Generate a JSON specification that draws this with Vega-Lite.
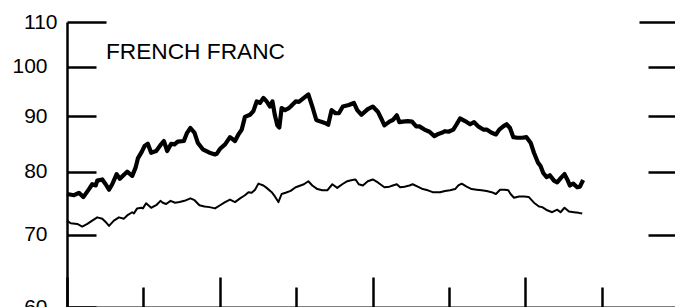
{
  "$schema": "https://vega.github.io/schema/vega-lite/v6.json",
  "width": 611,
  "height": 285,
  "autosize": {"type": "none"},
  "padding": {"left": 67, "top": 22, "right": 0, "bottom": 0},
  "background": "white",
  "config": {"view": {"stroke": null}, "font": "Liberation Sans"},
  "datasets": {
    "thick": [
      {"t":0.000,"v":76.3},{"t":0.046,"v":76.1},{"t":0.078,"v":76.5},{"t":0.107,"v":75.8},{"t":0.144,"v":77.1},{"t":0.165,"v":77.9},{"t":0.188,"v":77.7},{"t":0.198,"v":78.5},{"t":0.231,"v":78.7},{"t":0.253,"v":77.9},{"t":0.275,"v":77.0},{"t":0.296,"v":77.9},{"t":0.325,"v":79.6},{"t":0.346,"v":78.8},{"t":0.373,"v":79.5},{"t":0.394,"v":80.0},{"t":0.427,"v":79.3},{"t":0.449,"v":80.7},{"t":0.464,"v":82.3},{"t":0.490,"v":83.5},{"t":0.508,"v":84.5},{"t":0.529,"v":84.9},{"t":0.551,"v":83.3},{"t":0.584,"v":83.6},{"t":0.616,"v":84.8},{"t":0.634,"v":85.4},{"t":0.656,"v":83.6},{"t":0.682,"v":84.9},{"t":0.704,"v":84.8},{"t":0.725,"v":85.3},{"t":0.765,"v":85.4},{"t":0.786,"v":86.9},{"t":0.808,"v":87.8},{"t":0.835,"v":86.9},{"t":0.856,"v":85.1},{"t":0.889,"v":83.9},{"t":0.933,"v":83.3},{"t":0.969,"v":83.0},{"t":0.980,"v":83.1},{"t":1.002,"v":84.0},{"t":1.035,"v":84.8},{"t":1.067,"v":86.1},{"t":1.100,"v":85.4},{"t":1.122,"v":86.6},{"t":1.144,"v":87.5},{"t":1.165,"v":89.9},{"t":1.198,"v":90.3},{"t":1.220,"v":91.0},{"t":1.242,"v":92.9},{"t":1.263,"v":92.6},{"t":1.286,"v":93.6},{"t":1.307,"v":92.9},{"t":1.329,"v":91.9},{"t":1.345,"v":92.9},{"t":1.361,"v":90.2},{"t":1.377,"v":88.3},{"t":1.390,"v":87.9},{"t":1.405,"v":91.6},{"t":1.427,"v":91.2},{"t":1.453,"v":91.6},{"t":1.464,"v":91.9},{"t":1.497,"v":92.9},{"t":1.518,"v":92.8},{"t":1.551,"v":93.6},{"t":1.580,"v":94.3},{"t":1.606,"v":91.9},{"t":1.632,"v":89.3},{"t":1.660,"v":89.0},{"t":1.693,"v":88.7},{"t":1.710,"v":88.4},{"t":1.732,"v":91.2},{"t":1.758,"v":90.6},{"t":1.780,"v":90.6},{"t":1.806,"v":91.9},{"t":1.845,"v":92.2},{"t":1.878,"v":92.6},{"t":1.900,"v":91.2},{"t":1.928,"v":90.3},{"t":1.969,"v":91.4},{"t":2.002,"v":91.9},{"t":2.035,"v":90.9},{"t":2.057,"v":89.6},{"t":2.078,"v":88.3},{"t":2.111,"v":89.0},{"t":2.133,"v":89.3},{"t":2.159,"v":90.2},{"t":2.176,"v":88.9},{"t":2.198,"v":89.0},{"t":2.231,"v":89.1},{"t":2.259,"v":89.0},{"t":2.286,"v":88.1},{"t":2.307,"v":88.1},{"t":2.340,"v":87.5},{"t":2.373,"v":87.1},{"t":2.405,"v":86.3},{"t":2.431,"v":86.7},{"t":2.453,"v":86.9},{"t":2.475,"v":87.2},{"t":2.497,"v":87.1},{"t":2.529,"v":87.5},{"t":2.551,"v":88.5},{"t":2.573,"v":89.6},{"t":2.606,"v":89.1},{"t":2.639,"v":88.5},{"t":2.665,"v":88.9},{"t":2.693,"v":88.1},{"t":2.725,"v":87.5},{"t":2.747,"v":87.5},{"t":2.780,"v":86.9},{"t":2.808,"v":86.6},{"t":2.830,"v":87.5},{"t":2.856,"v":88.1},{"t":2.878,"v":88.5},{"t":2.900,"v":87.8},{"t":2.922,"v":86.1},{"t":2.948,"v":86.0},{"t":2.980,"v":86.0},{"t":3.008,"v":86.1},{"t":3.035,"v":85.1},{"t":3.057,"v":83.3},{"t":3.083,"v":81.6},{"t":3.100,"v":81.0},{"t":3.118,"v":79.8},{"t":3.139,"v":79.1},{"t":3.161,"v":79.4},{"t":3.188,"v":78.5},{"t":3.209,"v":78.2},{"t":3.235,"v":79.0},{"t":3.257,"v":79.6},{"t":3.275,"v":78.7},{"t":3.292,"v":77.7},{"t":3.314,"v":78.0},{"t":3.340,"v":77.4},{"t":3.358,"v":77.5},{"t":3.379,"v":78.6}
    ],
    "thin": [
      {"t":0.000,"v":72.1},{"t":0.024,"v":71.7},{"t":0.067,"v":71.6},{"t":0.100,"v":71.2},{"t":0.133,"v":71.6},{"t":0.165,"v":72.1},{"t":0.198,"v":72.6},{"t":0.231,"v":72.4},{"t":0.253,"v":71.9},{"t":0.275,"v":71.3},{"t":0.307,"v":72.1},{"t":0.340,"v":72.6},{"t":0.373,"v":72.4},{"t":0.394,"v":72.9},{"t":0.427,"v":73.4},{"t":0.438,"v":73.2},{"t":0.459,"v":74.0},{"t":0.486,"v":74.1},{"t":0.497,"v":74.0},{"t":0.518,"v":74.8},{"t":0.551,"v":74.1},{"t":0.584,"v":74.5},{"t":0.612,"v":75.2},{"t":0.627,"v":74.9},{"t":0.649,"v":74.7},{"t":0.678,"v":75.2},{"t":0.708,"v":74.9},{"t":0.737,"v":75.0},{"t":0.769,"v":75.2},{"t":0.808,"v":75.6},{"t":0.835,"v":75.3},{"t":0.867,"v":74.5},{"t":0.900,"v":74.3},{"t":0.933,"v":74.2},{"t":0.969,"v":74.0},{"t":1.002,"v":74.5},{"t":1.035,"v":75.0},{"t":1.067,"v":75.4},{"t":1.100,"v":75.0},{"t":1.133,"v":75.6},{"t":1.165,"v":76.1},{"t":1.188,"v":76.6},{"t":1.209,"v":76.5},{"t":1.231,"v":77.0},{"t":1.253,"v":78.0},{"t":1.286,"v":77.7},{"t":1.307,"v":77.3},{"t":1.340,"v":76.6},{"t":1.361,"v":75.9},{"t":1.384,"v":75.0},{"t":1.405,"v":76.3},{"t":1.431,"v":76.5},{"t":1.464,"v":76.8},{"t":1.497,"v":77.4},{"t":1.529,"v":77.7},{"t":1.551,"v":77.9},{"t":1.580,"v":78.4},{"t":1.606,"v":77.7},{"t":1.639,"v":77.1},{"t":1.671,"v":76.9},{"t":1.704,"v":76.9},{"t":1.737,"v":77.9},{"t":1.769,"v":77.3},{"t":1.802,"v":77.9},{"t":1.835,"v":78.4},{"t":1.867,"v":78.6},{"t":1.889,"v":78.7},{"t":1.910,"v":77.9},{"t":1.937,"v":77.7},{"t":1.969,"v":78.4},{"t":2.002,"v":78.7},{"t":2.035,"v":78.2},{"t":2.078,"v":77.4},{"t":2.111,"v":77.5},{"t":2.133,"v":77.7},{"t":2.159,"v":77.9},{"t":2.181,"v":77.4},{"t":2.209,"v":77.5},{"t":2.242,"v":77.7},{"t":2.263,"v":77.9},{"t":2.296,"v":77.5},{"t":2.329,"v":77.1},{"t":2.362,"v":76.9},{"t":2.394,"v":76.6},{"t":2.442,"v":76.6},{"t":2.475,"v":76.8},{"t":2.508,"v":76.9},{"t":2.541,"v":77.1},{"t":2.562,"v":77.7},{"t":2.584,"v":78.0},{"t":2.616,"v":77.5},{"t":2.649,"v":77.1},{"t":2.682,"v":77.0},{"t":2.714,"v":76.9},{"t":2.747,"v":76.8},{"t":2.780,"v":76.6},{"t":2.808,"v":76.3},{"t":2.835,"v":77.0},{"t":2.867,"v":77.0},{"t":2.889,"v":76.9},{"t":2.904,"v":76.3},{"t":2.926,"v":75.7},{"t":2.959,"v":75.9},{"t":2.992,"v":75.9},{"t":3.024,"v":75.8},{"t":3.057,"v":74.9},{"t":3.090,"v":74.3},{"t":3.111,"v":74.2},{"t":3.144,"v":73.7},{"t":3.176,"v":73.4},{"t":3.209,"v":73.8},{"t":3.231,"v":73.4},{"t":3.257,"v":74.1},{"t":3.286,"v":73.5},{"t":3.318,"v":73.4},{"t":3.350,"v":73.3},{"t":3.373,"v":73.2}
    ],
    "label": [{"name": "FRENCH FRANC"}]
  },
  "layer": [
    {
      "data": {"name": "thin"},
      "mark": {"type": "line", "color": "black", "strokeWidth": 2, "strokeJoin": "round"},
      "encoding": {
        "x": {
          "field": "t", "type": "quantitative",
          "scale": {"domain": [0, 4], "nice": false, "zero": false},
          "axis": {
            "orient": "bottom", "values": [0,0.25,0.5,0.75,1,1.25,1.5,1.75,2,2.25,2.5,2.75,3,3.25,3.5,3.75,4],
            "labels": false, "title": null, "grid": false,
            "domainColor": "black", "domainWidth": 2,
            "tickColor": "black", "tickWidth": 2.5,
            "tickSize": {"condition": {"test": "datum.value % 1 == 0", "value": -30}, "value": -20}
          }
        },
        "y": {
          "field": "v", "type": "quantitative",
          "scale": {"type": "log", "domain": [60, 110], "nice": false, "zero": false},
          "axis": {
            "orient": "left", "values": [60,70,80,90,100,110],
            "title": null, "grid": false,
            "domainColor": "black", "domainWidth": 2.5,
            "tickColor": "black", "tickWidth": 2.5,
            "tickSize": {"condition": {"test": "datum.value == 110", "value": -39}, "value": -29},
            "labelFontSize": 21, "labelColor": "black", "labelFont": "Liberation Sans",
            "labelPadding": 49
          }
        }
      }
    },
    {
      "data": {"name": "thick"},
      "mark": {"type": "line", "color": "black", "strokeWidth": 4.2, "strokeJoin": "round"},
      "encoding": {
        "x": {"field": "t", "type": "quantitative"},
        "y": {
          "field": "v", "type": "quantitative",
          "axis": {
            "orient": "right", "values": [70,80,90,100,110],
            "title": null, "grid": false, "labels": false, "domain": false,
            "tickColor": "black", "tickWidth": 2.5,
            "tickSize": {"condition": {"test": "datum.value == 110", "value": -39}, "value": -30}
          }
        }
      }
    },
    {
      "data": {"name": "label"},
      "mark": {"type": "text", "fontSize": 22.7, "font": "Liberation Sans", "align": "left", "baseline": "alphabetic", "color": "black"},
      "encoding": {
        "text": {"field": "name", "type": "nominal"},
        "x": {"datum": 0.255, "type": "quantitative"},
        "y": {"datum": 101.7, "type": "quantitative", "axis": null}
      }
    }
  ],
  "resolve": {"axis": {"y": "independent"}}
}
